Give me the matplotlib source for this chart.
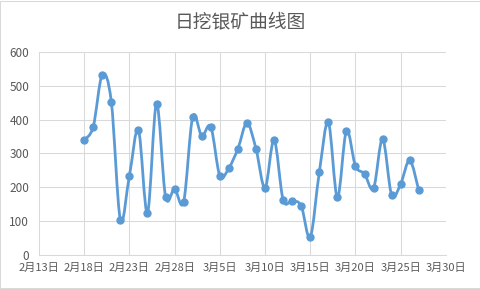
import matplotlib
matplotlib.use("Agg")
import matplotlib.pyplot as plt
import matplotlib.dates as mdates
from matplotlib.path import Path
from matplotlib.patches import PathPatch, Rectangle
import pandas as pd

plt.rcParams["font.family"] = ["Noto Sans CJK SC", "DejaVu Sans"]

TITLE = "日挖银矿曲线图"
DATES = [
    "2023-02-18", "2023-02-19", "2023-02-20", "2023-02-21", "2023-02-22",
    "2023-02-23", "2023-02-24", "2023-02-25", "2023-02-26", "2023-02-27",
    "2023-02-28", "2023-03-01", "2023-03-02", "2023-03-03", "2023-03-04",
    "2023-03-05", "2023-03-06", "2023-03-07", "2023-03-08", "2023-03-09",
    "2023-03-10", "2023-03-11", "2023-03-12", "2023-03-13", "2023-03-14",
    "2023-03-15", "2023-03-16", "2023-03-17", "2023-03-18", "2023-03-19",
    "2023-03-20", "2023-03-21", "2023-03-22", "2023-03-23", "2023-03-24",
    "2023-03-25", "2023-03-26", "2023-03-27",
]
VALUES = [
    340, 379, 533, 453, 104, 234, 370, 124, 447, 172,
    195, 157, 408, 352, 379, 234, 257, 314, 390, 314,
    198, 340, 163, 160, 145, 52, 244, 393, 170, 367,
    263, 240, 197, 343, 177, 210, 280, 191,
]
X_START = "2023-02-13"
X_END = "2023-03-30"
Y_TICKS = [0, 100, 200, 300, 400, 500, 600]

LINE = "#5B9BD5"
GRID = "#D9D9D9"
TEXT = "#595959"


def smooth_path(xs, ys):
    # Excel-style smoothed line: cubic bezier through each point
    pts = list(zip(xs, ys))
    n = len(pts)
    verts = [pts[0]]
    codes = [Path.MOVETO]
    for i in range(n - 1):
        p0 = pts[i - 1] if i > 0 else pts[i]
        p1 = pts[i]
        p2 = pts[i + 1]
        p3 = pts[i + 2] if i + 2 < n else pts[i + 1]
        c1 = (p1[0] + (p2[0] - p0[0]) / 6, p1[1] + (p2[1] - p0[1]) / 6)
        c2 = (p2[0] - (p3[0] - p1[0]) / 6, p2[1] - (p3[1] - p1[1]) / 6)
        verts += [c1, c2, p2]
        codes += [Path.CURVE4] * 3
    return Path(verts, codes)


def main() -> None:
    fig = plt.figure(figsize=(4.81, 2.89), dpi=100)
    ax = fig.add_axes([0.081, 0.118, 0.846, 0.702])

    x = mdates.date2num(pd.to_datetime(DATES))
    x0 = mdates.date2num(pd.Timestamp(X_START))
    x1 = mdates.date2num(pd.Timestamp(X_END))

    ax.add_patch(PathPatch(smooth_path(x, VALUES), facecolor="none",
                           edgecolor=LINE, linewidth=2.0, zorder=3,
                           capstyle="round", joinstyle="round"))
    ax.plot(x, VALUES, linestyle="none", marker="o", markersize=5,
            color=LINE, zorder=4)

    ax.set_xlim(x0, x1)
    ax.set_ylim(0, 600)
    ax.set_yticks(Y_TICKS)
    xticks = [x0 + 5 * k for k in range(10)]
    ax.set_xticks(xticks)
    ax.set_xticklabels(
        [f"{d.month}月{d.day}日" for d in mdates.num2date(xticks)])

    ax.grid(True, color=GRID, linewidth=0.75, zorder=0)
    ax.set_axisbelow(True)
    for side in ["top", "right", "left"]:
        ax.spines[side].set_visible(False)
    ax.spines["bottom"].set_color(GRID)
    ax.spines["bottom"].set_linewidth(0.75)
    ax.tick_params(length=0, colors=TEXT)
    ax.tick_params(axis="y", pad=7, labelsize=8.5)
    ax.tick_params(axis="x", pad=6, labelsize=8)

    fig.text(0.5, 0.925, TITLE, ha="center", va="center",
             fontsize=13.5, color=TEXT)
    fig.patches.append(Rectangle((0.001, 0.002), 0.997, 0.995,
                                 transform=fig.transFigure, fill=False,
                                 edgecolor=GRID, linewidth=0.75))

    fig.savefig("out.png", dpi=100, facecolor="white")
    plt.close(fig)


if __name__ == "__main__":
    main()
